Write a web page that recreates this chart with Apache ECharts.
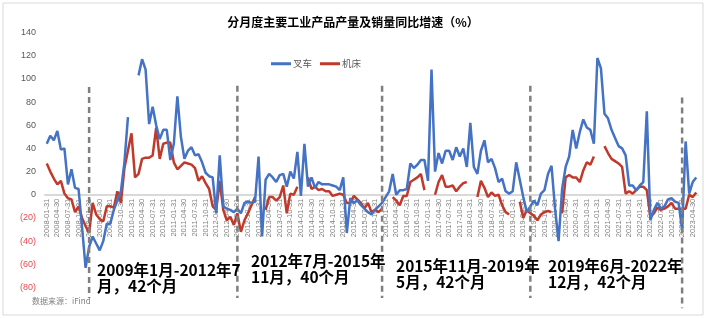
<!DOCTYPE html>
<html>
<head>
<meta charset="utf-8">
<script src="https://cdn.jsdelivr.net/npm/echarts@6/dist/echarts.min.js"></script>
<style>
  html, body { margin: 0; padding: 0; background: #fff; }
  #chart { width: 706px; height: 318px; }
</style>
</head>
<body>
<div id="chart"></div>
<script>
// 月度数据 2008-01 ~ 2023-05
const firstYear = 2008
const monthCount = 185
const months = []
for (let k = 0; k < monthCount; k++) {
  const y = firstYear + Math.floor(k / 12)
  const m = k % 12 + 1
  const d = new Date(y, m, 0).getDate()
  months.push(y + '-' + String(m).padStart(2, '0') + '-' + d)
}

// 叉车
const forklift = [
  44, 51, 47, 55, 39, 40, 9, 22, 6, 5, -28, -63,
  -45, -36, -42, -48, -40, -25, -25, -13, -5, 3, 28, 67,
  null, null, 103, 117, 108, 61, 76, 60, 48, 56, 56, 30,
  44, 85, 50, 31, 38, 41, 34, 35, 28, 19, 16, 15,
  -16, 34, -10, -12, -13, -15, -12, -16, -7, -6, -7, -6,
  33, -36, 13, 18, 15, 11, 17, 18, 7, 20, 14, 37,
  -1, 44, 7, 15, 6, 11, 9, 9, 9, 8, 7, 4,
  15, -33, -3, -7, -5, -9, -12, -15, -17, -13, -10, -7,
  -2, 3, 18, 0, 4, 4, 5, 27, 23, 26, 30, 30,
  12, 108, 20, 36, 27, 38, 38, 30, 41, 33, 40, 24,
  62, 24, 18, 38, 47, 28, 31, 23, 11, 14, 3, 1,
  3, 28, 13, -2, -15, -10, -5, -9, 1, 4, 18, 25,
  -12, -40, 5, 24, 33, 56, 40, 54, 65, 58, 56, 44,
  118, 109, 70, 66, 56, 49, 42, 40, 34, 8, 8, 4,
  8, 11, 72, -22, -13, -7, -12, -10, -4, -3, -6, -7,
  -30, 46, 1, 11, 15
]

// 机床
const machineTool = [
  27, 20, 14, 9, 12, 1, -3, -4, -15, -10, -20, -27,
  -33, -7, -17, -21, -23, -10, -10, -11, 3, -7, 23, 38,
  53, 15, 18, 31, 32, 32, 34, 58, 31, 44, 45, 45,
  28, 22, 25, 28, 27, 26, 23, 12, 16, 10, 5, -10,
  -13, 12, -13, -22, -19, -26, -16, -32, -22, -16, -9, -2,
  null, null, -13, -2, -2, -5, -2, 8, -16, 1, 0, 7,
  null, null, 15, 5, 7, 4, 5, 3, 3, -1, 0, 1,
  0, -7, -7, -1, -4, -7, -12, -7, -15, -13, -15, -12,
  null, null, -2, -5, -9, -1, -1, 11, 13, 15, 18, 4,
  null, null, 0, 11, 17, 7, 7, 8, 3, 7, 10, 11,
  null, null, -2, 12, 6, -2, 2, -1, 0, -9, -15, -17,
  null, null, -6, -20, -13, -16, -18, -22, -17, -15, -14, -15,
  null, null, -16, 15, 17, 15, 15, 11, 21, 28, 26, 33,
  null, null, 42, 36, 31, 29, 27, 24, 1, 3, 1, 4,
  7, 7, 4, -19, -16, -11, -13, -12, -10, -7, -12, -12,
  -12, -12, 0, -2, 2
]

// 周期分隔线 (月份序号, 上端, 下端)
const cycleIdx = [12, 54, 95, 137, 180]
const cycleTop = [93, 94, 94, 94, 84]
const cycleBottom = [-89, -89, -89, -89, -98]

const cycleNotes = [
  '2009年1月-2012年7\n月，42个月',
  '2012年7月-2015年\n11月，40个月',
  '2015年11月-2019年\n5月，42个月',
  '2019年6月-2022年\n12月，42个月'
]

const chart = echarts.init(document.getElementById('chart'))

const noteText = (text, left, top) => ({
  type: 'text',
  left: left,
  top: top,
  z: 10,
  style: {
    text: text,
    fill: '#000',
    font: 'bold 15.5px "Noto Sans CJK SC"',
    lineHeight: 16
  }
})

// 虚线分隔: 每条一个小系列
const cycleSeries = cycleIdx.map((idx, k) => ({
  name: 'cycle' + k,
  type: 'line',
  data: [[idx, cycleTop[k]], [idx, cycleBottom[k]]],
  symbol: 'none',
  clip: false,
  silent: true,
  z: 4,
  lineStyle: {color: '#7f7f7f', width: 2.5, type: [6, 4]}
}))

const option = {
  animation: false,
  title: {
    text: '分月度主要工业产品产量及销量同比增速（%）',
    left: 'center',
    top: 11,
    textStyle: {
      fontSize: 12,
      fontWeight: 'bold',
      color: '#000',
      fontFamily: 'Noto Sans CJK SC'
    }
  },
  legend: {
    top: 54,
    left: 266,
    icon: 'rect',
    itemWidth: 20,
    itemHeight: 3,
    itemGap: 8,
    textStyle: {
      fontSize: 9.5,
      color: '#595959',
      fontFamily: 'Noto Sans CJK SC',
      padding: [0, 0, 0, -3]
    },
    data: ['叉车', '机床']
  },
  grid: {
    left: 45,
    right: 8,
    top: 32.5,
    bottom: 30.5,
    containLabel: false,
    outerBoundsMode: 'none'
  },
  xAxis: {
    type: 'category',
    data: months,
    boundaryGap: true,
    axisLine: {onZero: false, lineStyle: {color: '#d9d9d9', width: 2}},
    axisTick: {show: false},
    axisLabel: {
      interval: 2,
      rotate: 90,
      margin: 4,
      fontSize: 7.5,
      color: '#7f7f7f',
      fontFamily: 'Liberation Sans'
    }
  },
  yAxis: {
    type: 'value',
    min: -80,
    max: 140,
    interval: 20,
    axisLine: {show: false},
    axisTick: {show: false},
    splitLine: {show: false},
    axisLabel: {
      margin: 9,
      fontSize: 9,
      color: '#595959',
      fontFamily: 'Liberation Sans',
      formatter: v => v < 0 ? '{neg|(' + (-v) + ')}' : String(v),
      rich: {
        neg: {color: '#e8494f', fontSize: 9, fontFamily: 'Liberation Sans'}
      }
    }
  },
  series: [
    {
      name: '叉车',
      type: 'line',
      data: forklift,
      symbol: 'none',
      connectNulls: false,
      z: 3,
      lineStyle: {color: '#4472c4', width: 2.5},
      itemStyle: {color: '#4472c4'}
    },
    {
      name: '机床',
      type: 'line',
      data: machineTool,
      symbol: 'none',
      connectNulls: false,
      z: 2,
      lineStyle: {color: '#c0392b', width: 2.5},
      itemStyle: {color: '#c0392b'}
    }
  ].concat(cycleSeries),
  graphic: [
    {
      type: 'rect',
      shape: {x: 3, y: 3, width: 700, height: 312},
      style: {fill: 'none', stroke: '#d9d9d9', lineWidth: 1},
      silent: true
    },
    {
      type: 'text',
      left: 32,
      top: 297,
      style: {
        text: '数据来源：iFind',
        fill: '#7f7f7f',
        font: '8px "Noto Sans CJK SC"'
      }
    },
    noteText(cycleNotes[0], 97, 262),
    noteText(cycleNotes[1], 251, 253),
    noteText(cycleNotes[2], 396, 258),
    noteText(cycleNotes[3], 548, 258)
  ]
}

chart.setOption(option)

// x轴移到 0 值处 (onZero 在此环境不生效)
const zeroY = chart.convertToPixel({yAxisIndex: 0}, 0)
const bottomY = chart.convertToPixel({yAxisIndex: 0}, -80)
chart.setOption({xAxis: {offset: zeroY - bottomY}})
</script>
</body>
</html>
